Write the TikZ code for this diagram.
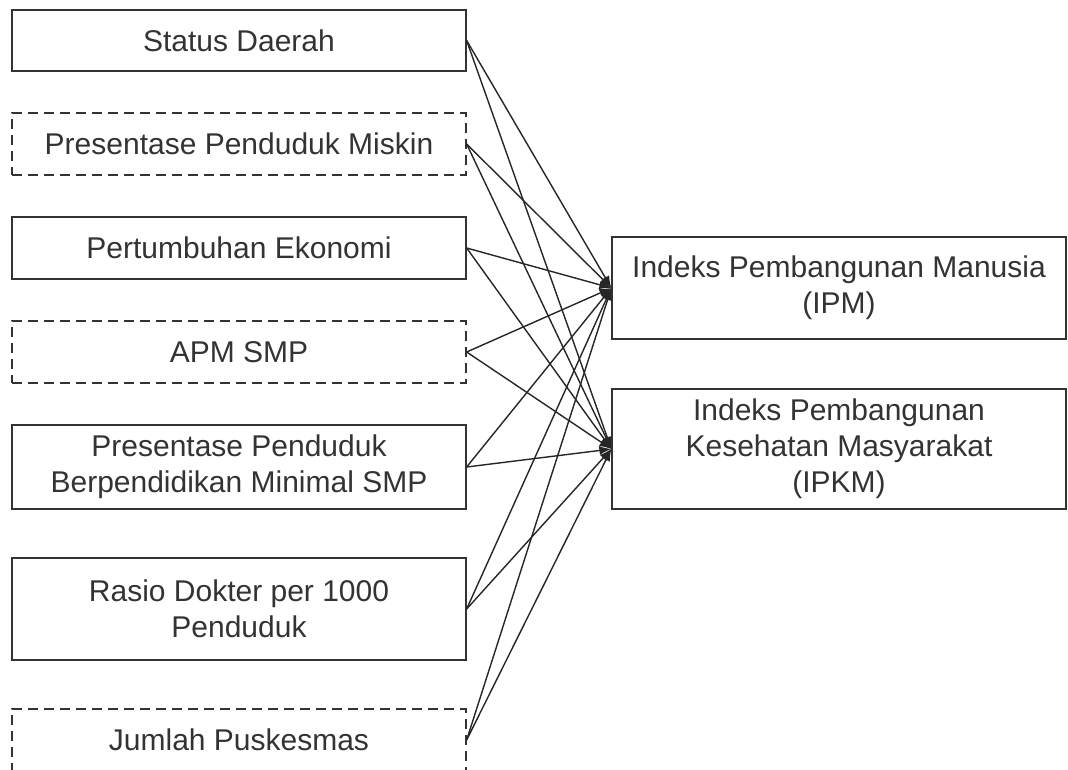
\documentclass[tikz,border=0pt]{standalone}
\usepackage{fontspec}
\setmainfont{Liberation Sans}
\usetikzlibrary{arrows.meta}
\begin{document}
\begin{tikzpicture}[x=1pt,y=-1pt,
  box/.style={draw=black!80, line width=1.3pt, minimum width=454pt, inner sep=0pt,
    align=center, font=\fontsize{30}{36}\selectfont, text=black!80},
  dbox/.style={box, dash pattern=on 10pt off 6pt},
  link/.style={draw=black!85, line width=1.4pt, -{Latex[length=12pt,width=9pt]}}]
\useasboundingbox (0,0) rectangle (1068,769);
\clip (0,0) rectangle (1068,769);
\node[box,  minimum height=61pt]  (s1) at (239,40.5) {Status Daerah};
\node[dbox, minimum height=62pt]  (s2) at (239,144) {Presentase Penduduk Miskin};
\node[box,  minimum height=62pt]  (s3) at (239,248) {Pertumbuhan Ekonomi};
\node[dbox, minimum height=62pt]  (s4) at (239,352) {APM SMP};
\node[box,  minimum height=84pt]  (s5) at (239,467) {Presentase Penduduk\\Berpendidikan Minimal SMP};
\node[box,  minimum height=102pt] (s6) at (239,609) {Rasio Dokter per 1000\\Penduduk};
\node[dbox, minimum height=62pt]  (s7) at (239,740) {Jumlah Puskesmas};
\node[box,  minimum height=102pt] (ipm)  at (839,288) {Indeks Pembangunan Manusia\\(IPM)};
\node[box,  minimum height=120pt] (ipkm) at (839,449) {Indeks Pembangunan\\Kesehatan Masyarakat\\(IPKM)};
\foreach \n in {s1,s2,s3,s4,s5,s6,s7}{
  \draw[link] (\n.east) -- (ipm.west);
  \draw[link] (\n.east) -- (ipkm.west);
}
\end{tikzpicture}
\end{document}
